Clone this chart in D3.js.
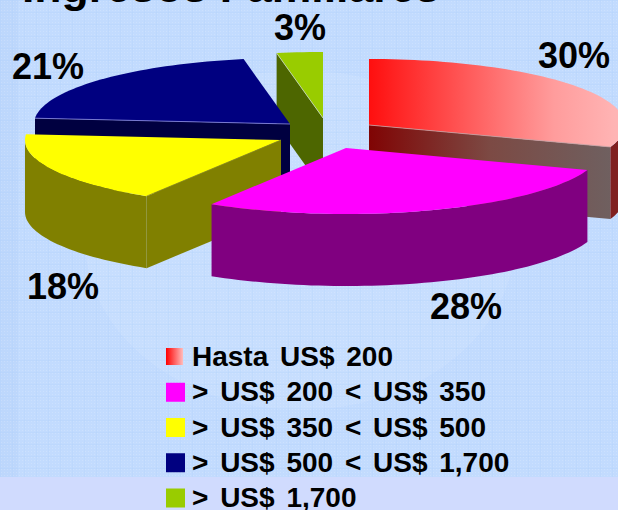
<!DOCTYPE html>
<html>
<head>
<meta charset="utf-8">
<script src="https://cdn.jsdelivr.net/npm/d3@7"></script>
<style>
  html, body { margin: 0; padding: 0; background: #c3dcfd; overflow: hidden; }
  text { font-family: "Liberation Sans", Arial, sans-serif; font-weight: bold; fill: #000; }
</style>
</head>
<body>
<div id="chart"></div>
<script>
const categories = ["Hasta US$ 200", "> US$ 200 < US$ 350", "> US$ 350 < US$ 500", "> US$ 500 < US$ 1,700", "> US$ 1,700"];
const shares = [30.4, 28.4, 17.6, 20.7, 2.9];
const titleText = "Ingresos Familiares";

const topColors = ["url(#redTop)", "#ff00ff", "#ffff00", "#000080", "#99cc00"];
const wallColors = ["url(#redWall)", "#800080", "#808000", "#000040", "#4d6600"];
const rimColors = ["#802020", "#800080", "#808000", "#000060", "#4d6600"];
const swatchColors = ["url(#redSwatch)", "#ff00ff", "#ffff00", "#000080", "#99cc00"];
const seamColors = ["#c8a0a0", null, "#8a8a20", "#8c8ce0", "#c8d8c0"];

// layout, not data: where each exploded wedge has its apex, and its % label
const apexes = [[369, 125], [346, 148], [281, 140], [290, 124], [323, 118]];
const labelSpots = [[574, 68], [466, 319], [63, 299], [48, 79], [300, 40]];
const rx = 256, ry = 66, depth = 72;

const width = 618, height = 510;
const svg = d3.select("#chart").append("svg").attr("width", width).attr("height", height);
const defs = svg.append("defs");

function gradient(id, stops, user) {
  const g = defs.append("linearGradient").attr("id", id);
  if (user) g.attr("gradientUnits", "userSpaceOnUse").attr("x1", user[0]).attr("x2", user[1]).attr("y1", 0).attr("y2", 0);
  g.selectAll("stop").data(stops).join("stop")
    .attr("offset", d => d[0]).attr("stop-color", d => d[1]);
}
gradient("redTop", [[0, "#ff0f0f"], [0.75, "#ff9c9c"], [1, "#ffb4b4"]], [369, 615]);
gradient("redWall", [[0, "#800404"], [0.5, "#7c4a44"], [1, "#6f6060"]], [369, 612]);
gradient("redSwatch", [[0, "#ff0000"], [1, "#ffbdbd"]]);

// background, the faint weave of the slide template
const pattern = defs.append("pattern").attr("id", "weave")
  .attr("width", 12).attr("height", 12).attr("patternUnits", "userSpaceOnUse");
pattern.append("rect").attr("width", 12).attr("height", 1).attr("fill", "#a8ccfa").attr("opacity", 0.2);
pattern.append("rect").attr("width", 1).attr("height", 12).attr("fill", "#a8ccfa").attr("opacity", 0.2);
d3.range(0, 12, 3).forEach(x => d3.range(0, 12, 3).forEach(y => {
  pattern.append("rect").attr("x", x + 1).attr("y", y + 1).attr("width", 1).attr("height", 1)
    .attr("fill", "#ffffff").attr("opacity", 0.16);
}));

svg.append("rect").attr("width", width).attr("height", height).attr("fill", "#c2dbfe");
svg.append("rect").attr("width", 18).attr("height", height).attr("fill", "#b7d3fa").attr("opacity", 0.5);
svg.append("ellipse").attr("cx", 300).attr("cy", 240).attr("rx", 215).attr("ry", 170)
  .attr("fill", "#d4e5ff").attr("opacity", 0.3);
svg.append("rect").attr("width", width).attr("height", 477).attr("fill", "url(#weave)");
svg.append("rect").attr("y", 477).attr("width", width).attr("height", height - 477).attr("fill", "#d0dbfe");

svg.append("text").attr("x", 22).attr("y", 2).style("font-size", "44.5px").text(titleText);

// pie angles come from the shares
const pie = d3.pie().sort(null).value(d => d);
const arcs = pie(shares);
const onRim = (apex, a, drop = 0) => [apex[0] + rx * Math.sin(a), apex[1] - ry * Math.cos(a) + drop];
const outline = d3.line();

function arcPoints(apex, a0, a1, drop) {
  const n = Math.max(2, Math.ceil((a1 - a0) / 0.03));
  return d3.range(n + 1).map(i => onRim(apex, a0 + (a1 - a0) * i / n, drop));
}

// back to front
const drawOrder = [4, 3, 2, 0, 1];
const pieGroup = svg.append("g");

drawOrder.forEach(i => {
  const arc = arcs[i], apex = apexes[i];
  const a0 = arc.startAngle, a1 = arc.endAngle;

  // radial walls that face the viewer
  const seams = [];
  [[a0, Math.sin(a0) < -1e-6], [a1, Math.sin(a1) > 1e-6]].forEach(([a, visible]) => {
    if (!visible) return;
    const p = onRim(apex, a);
    seams.push(p);
    pieGroup.append("path")
      .attr("d", outline([apex, p, [p[0], p[1] + depth], [apex[0], apex[1] + depth]]) + "Z")
      .attr("fill", wallColors[i]);
  });

  // outer rim, only the front half of the ellipse shows
  const f0 = Math.max(a0, Math.PI / 2), f1 = Math.min(a1, 3 * Math.PI / 2);
  if (f1 > f0) {
    const rim = arcPoints(apex, f0, f1, 0).concat(arcPoints(apex, f0, f1, depth).reverse());
    pieGroup.append("path").attr("d", outline(rim) + "Z").attr("fill", rimColors[i]);
  }

  // top face
  pieGroup.append("path")
    .attr("d", outline([apex].concat(arcPoints(apex, a0, a1, 0))) + "Z")
    .attr("fill", topColors[i]);

  // thin light seam where the top meets a wall
  if (seamColors[i]) seams.forEach(p => {
    pieGroup.append("path").attr("d", outline([apex, p]))
      .attr("fill", "none").attr("stroke", seamColors[i]).attr("stroke-width", 0.8);
  });
});

// percent labels
svg.append("g").selectAll("text").data(shares).join("text")
  .attr("x", (d, i) => labelSpots[i][0])
  .attr("y", (d, i) => labelSpots[i][1])
  .attr("text-anchor", "middle")
  .style("font-size", "36px")
  .text(d => Math.round(d) + "%");

// legend
const legendY = d3.scalePoint().domain(categories).range([357, 498]);
const legend = svg.append("g").selectAll("g").data(categories).join("g")
  .attr("transform", d => `translate(0,${legendY(d)})`);
legend.append("rect")
  .attr("x", 166).attr("y", (d, i) => i === 0 ? -9 : -9.5)
  .attr("width", (d, i) => i === 0 ? 17 : 19)
  .attr("height", (d, i) => i === 0 ? 17 : 19)
  .attr("fill", (d, i) => swatchColors[i]);
legend.append("text")
  .attr("x", 192).attr("y", 9)
  .style("font-size", "28px")
  .style("word-spacing", "4px")
  .text(d => d);
</script>
</body>
</html>
